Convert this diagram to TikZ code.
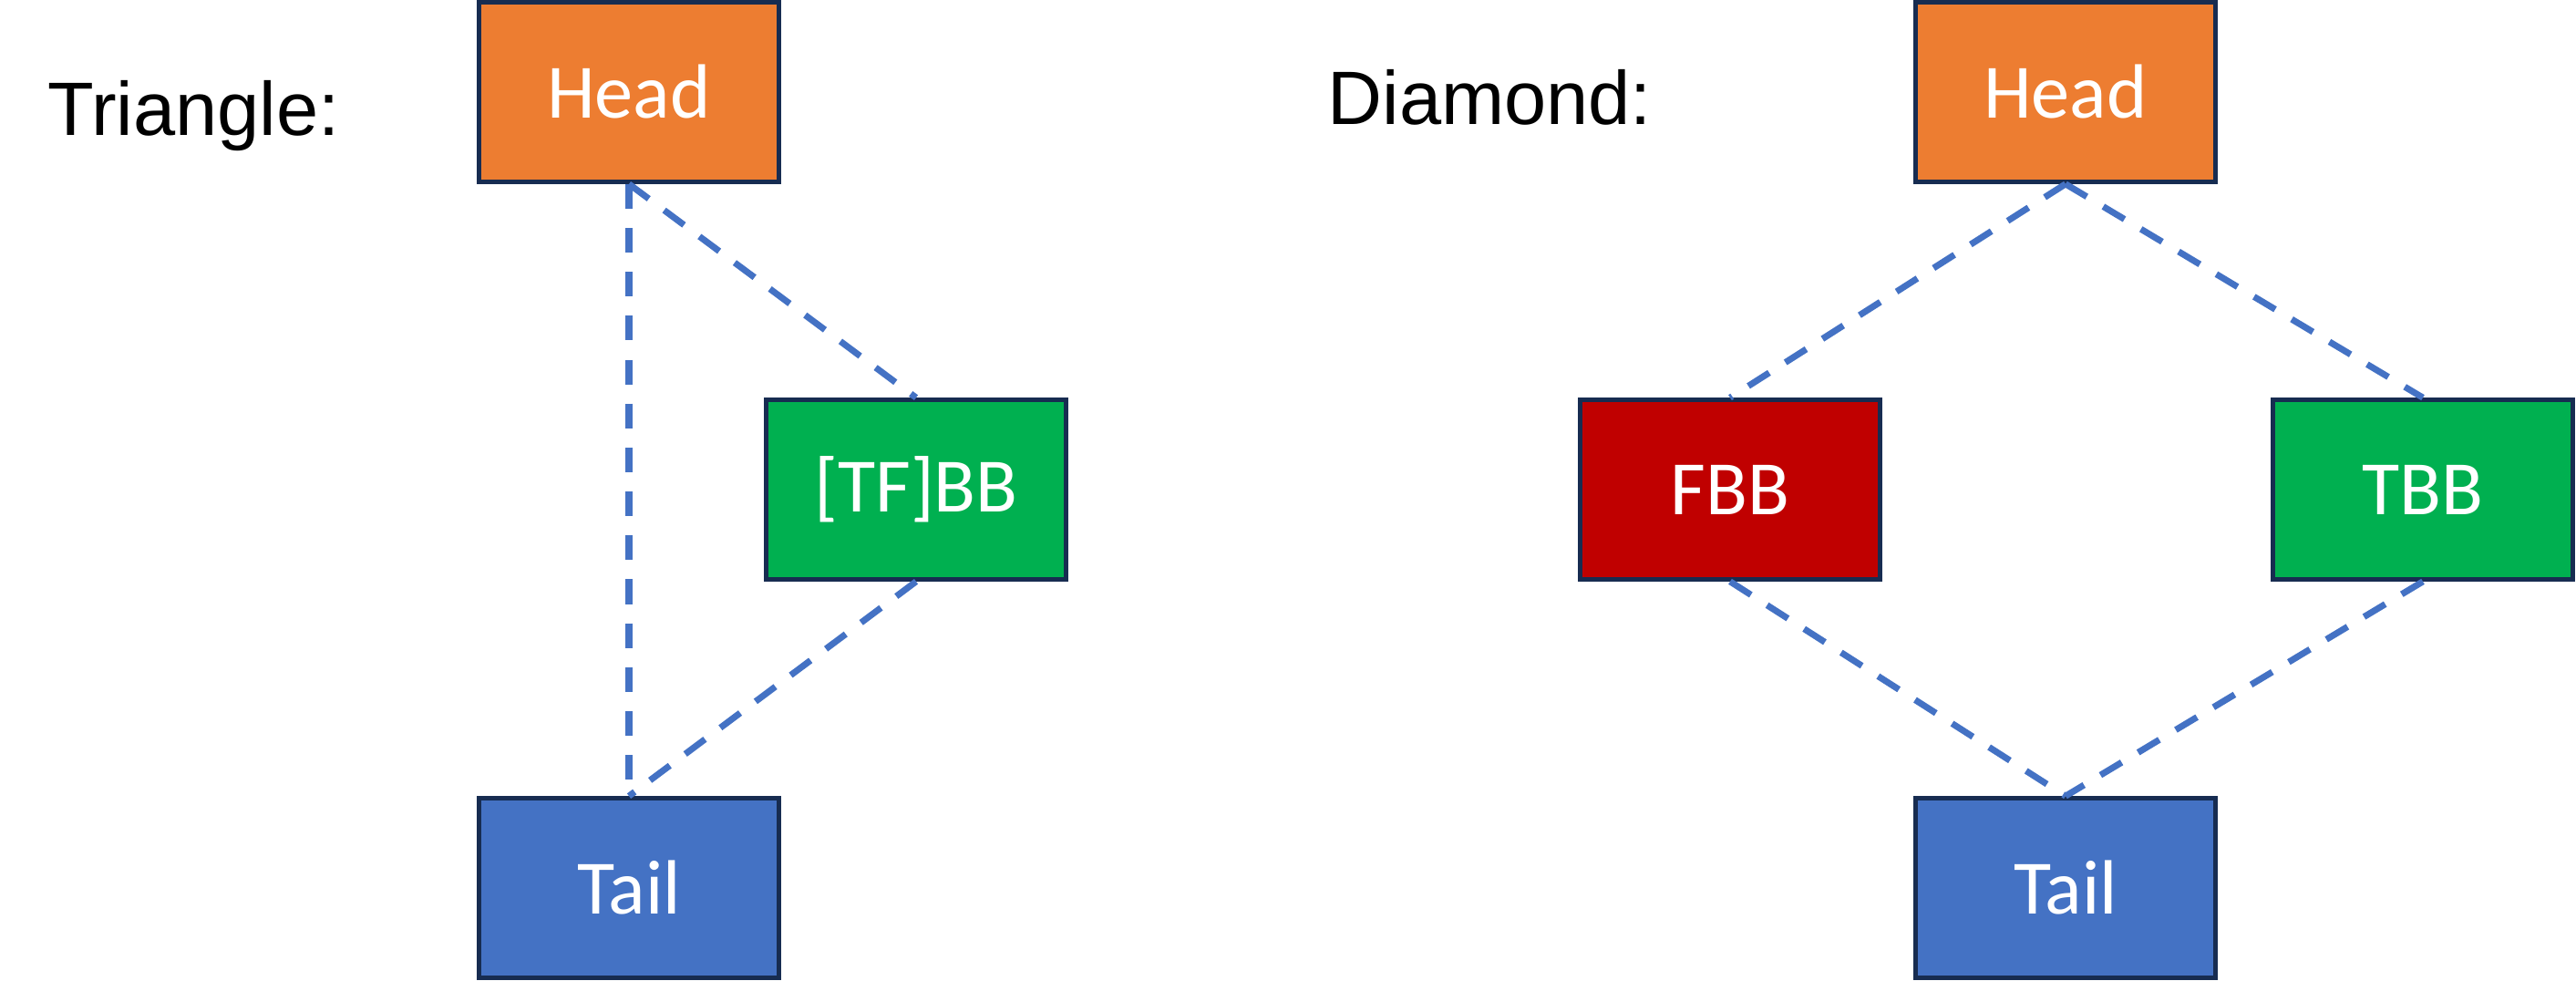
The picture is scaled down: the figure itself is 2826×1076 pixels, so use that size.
\documentclass[tikz,border=0pt]{standalone}
\usepackage{fontspec}
\setmainfont{Carlito}
\newfontfamily\labelfont{Liberation Sans}
\definecolor{headorange}{HTML}{ED7D31}
\definecolor{bbgreen}{HTML}{00B050}
\definecolor{bbred}{HTML}{C00000}
\definecolor{tailblue}{HTML}{4472C4}
\definecolor{edgenavy}{HTML}{172C51}
\begin{document}
\begin{tikzpicture}[x=0.01cm,y=-0.01cm,
  blk/.style={draw=edgenavy,line width=1.3pt,minimum width=3.29cm,minimum height=1.97cm,
    inner sep=0pt,text=white,font=\fontsize{24}{28}\selectfont},
  link/.style={draw=tailblue,line width=2pt,dash pattern=on 7.7pt off 6pt},
  title/.style={anchor=base west,inner sep=0pt,font=\labelfont\fontsize{23.6}{28}\selectfont}]
\useasboundingbox (0,0) rectangle (2826,1076);
% triangle
\node [title] (ttri) at (52,149) {Triangle:};
\node [blk,fill=headorange] (headA) at (690,101) {Head};
\node [blk,fill=bbgreen] (tfbb) at (1005,537) {[TF]BB};
\node [blk,fill=tailblue] (tailA) at (690,974) {Tail};
\draw [link] (headA.south) -- (tailA.north);
\draw [link] (headA.south) -- (tfbb.north);
\draw [link] (tfbb.south) -- (tailA.north);
% diamond
\node [title] (tdia) at (1456,137) {Diamond:};
\node [blk,fill=headorange] (headB) at (2266,101) {Head};
\node [blk,fill=bbred] (fbb) at (1898,537) {FBB};
\node [blk,fill=bbgreen] (tbb) at (2658,537) {TBB};
\node [blk,fill=tailblue] (tailB) at (2266,974) {Tail};
\draw [link] (headB.south) -- (fbb.north);
\draw [link] (headB.south) -- (tbb.north);
\draw [link] (fbb.south) -- (tailB.north);
\draw [link] (tbb.south) -- (tailB.north);
\end{tikzpicture}
\end{document}
